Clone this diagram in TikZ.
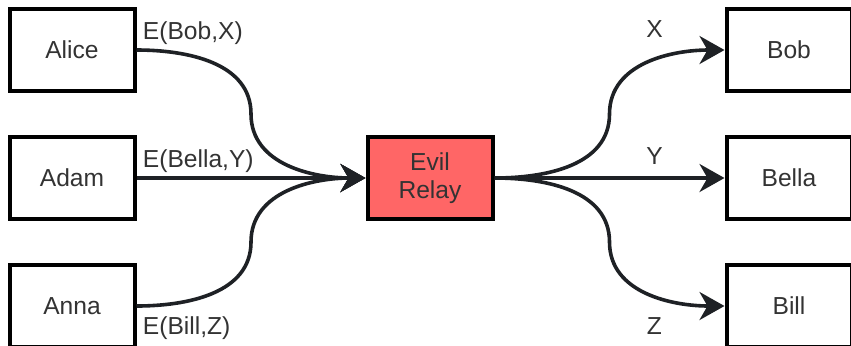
\documentclass[tikz,border=0pt]{standalone}
\usepackage{fontspec}
\setmainfont{Liberation Sans}
\usetikzlibrary{positioning,calc,arrows.meta}
\definecolor{txtgray}{HTML}{333333}
\definecolor{linegray}{HTML}{1E2125}
\definecolor{evilred}{HTML}{FF6666}
\begin{document}
\begin{tikzpicture}[
                    x=0.5pt, y=0.5pt,
                    node distance=21pt,
                    >={Stealth[length=12.5pt,width=14pt,inset=4pt]},
                    party/.style={rectangle, draw=black, line width=2pt, minimum width=62.5pt, minimum height=41pt, text=txtgray, font=\fontsize{12.3}{14}\selectfont},
                    relaybox/.style={party, fill=evilred, align=center},
                    flow/.style={->, draw=linegray, line width=1.8pt},
                    lbl/.style={inner sep=0pt, text=txtgray, font=\fontsize{12.3}{14}\selectfont}
                ]
                \useasboundingbox (0,0) rectangle (851,-345);
                % Blocks
                \node [party] (alice) at (72,-50) {Alice};
                \node [party, below=of alice] (adam) {Adam};
                \node [party, below=of adam] (anna) {Anna};
                \node [relaybox, right=114.5pt of adam] (relay) {Evil\\Relay};
                \node [party, right=115pt of relay] (bella) {Bella};
                \node [party, above=of bella] (bob) {Bob};
                \node [party, below=of bella] (bill) {Bill};

                % Labels
                \node [lbl, anchor=base west] (eBob) at ([shift={(6,11)}]alice.east) {E(Bob,X)};
                \node [lbl, anchor=base west] (eBella) at ([shift={(6,11)}]adam.east) {E(Bella,Y)};
                \node [lbl, anchor=base west] (eBill) at ([shift={(6,-28)}]anna.east) {E(Bill,Z)};
                \node [lbl, anchor=base] (lX) at ([shift={(-70,13)}]bob.west) {X};
                \node [lbl, anchor=base] (lY) at ([shift={(-70,14)}]bella.west) {Y};
                \node [lbl, anchor=base] (lZ) at ([shift={(-70,-28)}]bill.west) {Z};

                % Bends
                \coordinate (kAlice) at ($(alice.east)!0.5!(relay.west)$);
                \coordinate (kAnna) at ($(anna.east)!0.5!(relay.west)$);
                \coordinate (kBob) at ($(relay.east)!0.5!(bob.west)$);
                \coordinate (kBill) at ($(relay.east)!0.5!(bill.west)$);

                % Connections
                \draw [flow] (alice.east) to[out=0,in=90] (kAlice) to[out=-90,in=180] (relay.west);
                \draw [flow] (adam.east) -- (relay.west);
                \draw [flow] (anna.east) to[out=0,in=-90] (kAnna) to[out=90,in=180] (relay.west);
                \draw [flow] (relay.east) to[out=0,in=-90] (kBob) to[out=90,in=180] (bob.west);
                \draw [flow] (relay.east) -- (bella.west);
                \draw [flow] (relay.east) to[out=0,in=90] (kBill) to[out=-90,in=180] (bill.west);
            \end{tikzpicture}
\end{document}
